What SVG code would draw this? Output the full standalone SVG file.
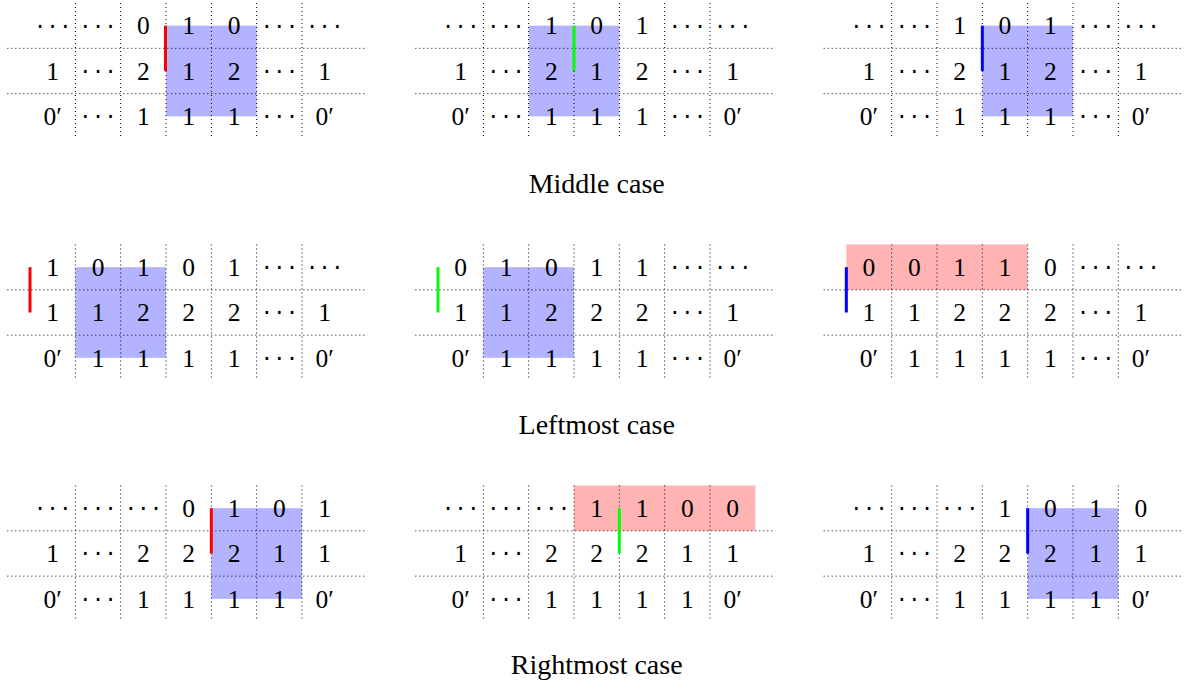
<svg xmlns="http://www.w3.org/2000/svg" xmlns:xlink="http://www.w3.org/1999/xlink" width="1184" height="684" viewBox="0 0 1184 684">
<style>
.dot{fill:none;stroke:#000;stroke-width:1;stroke-dasharray:1 3}
.t{font-family:"Liberation Serif","Times New Roman",serif;font-size:25.5px;text-anchor:middle;fill:#000}
.c{font-family:"DejaVu Sans",sans-serif;font-size:24px;letter-spacing:5px;text-anchor:middle;fill:#000}
.cap{font-family:"Liberation Serif","Times New Roman",serif;font-size:28px;text-anchor:middle;fill:#000}
.blue{fill:#b3b3ff}
.pink{fill:#ffb3b3}
.bar{stroke-width:3;fill:none}
</style>
<defs>
<path id="gl" class="dot" d="M-22.67 45.33H337.33M-22.67 90.67H337.33M45.33 0V136M90.67 0V136M136 0V136M181.33 0V136M226.67 0V136M272 0V136"/>
</defs>
<rect width="1184" height="684" fill="#fff"/>

<g id="grid-middle-1" transform="translate(30,3)">
<rect class="blue" x="136" y="22.67" width="90.67" height="90.67"/>
<use xlink:href="#gl"/>
<text class="c" x="25.17" y="31.5">···</text><text class="c" x="70.5" y="31.5">···</text><text class="t" x="113.33" y="31.4">0</text><text class="t" x="158.67" y="31.4">1</text><text class="t" x="204" y="31.4">0</text><text class="c" x="251.83" y="31.5">···</text><text class="c" x="297.17" y="31.5">···</text>
<text class="t" x="22.67" y="76.7">1</text><text class="c" x="70.5" y="76.8">···</text><text class="t" x="113.33" y="76.7">2</text><text class="t" x="158.67" y="76.7">1</text><text class="t" x="204" y="76.7">2</text><text class="c" x="251.83" y="76.8">···</text><text class="t" x="294.67" y="76.7">1</text>
<text class="t" x="22.67" y="122">0′</text><text class="c" x="70.5" y="122.2">···</text><text class="t" x="113.33" y="122">1</text><text class="t" x="158.67" y="122">1</text><text class="t" x="204" y="122">1</text><text class="c" x="251.83" y="122.2">···</text><text class="t" x="294.67" y="122">0′</text>
<line class="bar" stroke="#ff0000" x1="135.5" y1="22.67" x2="135.5" y2="68"/>
</g>

<g id="grid-middle-2" transform="translate(438,3)">
<rect class="blue" x="90.67" y="22.67" width="90.67" height="90.67"/>
<use xlink:href="#gl"/>
<text class="c" x="25.17" y="31.5">···</text><text class="c" x="70.5" y="31.5">···</text><text class="t" x="113.33" y="31.4">1</text><text class="t" x="158.67" y="31.4">0</text><text class="t" x="204" y="31.4">1</text><text class="c" x="251.83" y="31.5">···</text><text class="c" x="297.17" y="31.5">···</text>
<text class="t" x="22.67" y="76.7">1</text><text class="c" x="70.5" y="76.8">···</text><text class="t" x="113.33" y="76.7">2</text><text class="t" x="158.67" y="76.7">1</text><text class="t" x="204" y="76.7">2</text><text class="c" x="251.83" y="76.8">···</text><text class="t" x="294.67" y="76.7">1</text>
<text class="t" x="22.67" y="122">0′</text><text class="c" x="70.5" y="122.2">···</text><text class="t" x="113.33" y="122">1</text><text class="t" x="158.67" y="122">1</text><text class="t" x="204" y="122">1</text><text class="c" x="251.83" y="122.2">···</text><text class="t" x="294.67" y="122">0′</text>
<line class="bar" stroke="#00ff00" x1="136" y1="22.67" x2="136" y2="68"/>
</g>

<g id="grid-middle-3" transform="translate(846.33,3)">
<rect class="blue" x="136" y="22.67" width="90.67" height="90.67"/>
<use xlink:href="#gl"/>
<text class="c" x="25.17" y="31.5">···</text><text class="c" x="70.5" y="31.5">···</text><text class="t" x="113.33" y="31.4">1</text><text class="t" x="158.67" y="31.4">0</text><text class="t" x="204" y="31.4">1</text><text class="c" x="251.83" y="31.5">···</text><text class="c" x="297.17" y="31.5">···</text>
<text class="t" x="22.67" y="76.7">1</text><text class="c" x="70.5" y="76.8">···</text><text class="t" x="113.33" y="76.7">2</text><text class="t" x="158.67" y="76.7">1</text><text class="t" x="204" y="76.7">2</text><text class="c" x="251.83" y="76.8">···</text><text class="t" x="294.67" y="76.7">1</text>
<text class="t" x="22.67" y="122">0′</text><text class="c" x="70.5" y="122.2">···</text><text class="t" x="113.33" y="122">1</text><text class="t" x="158.67" y="122">1</text><text class="t" x="204" y="122">1</text><text class="c" x="251.83" y="122.2">···</text><text class="t" x="294.67" y="122">0′</text>
<line class="bar" stroke="#0000ff" x1="136" y1="22.67" x2="136" y2="68"/>
</g>

<text id="caption-middle" class="cap" x="596.7" y="193.3">Middle case</text>

<g id="grid-left-1" transform="translate(30,244.5)">
<rect class="blue" x="45.33" y="22.67" width="90.67" height="90.67"/>
<use xlink:href="#gl"/>
<text class="t" x="22.67" y="31.4">1</text><text class="t" x="68" y="31.4">0</text><text class="t" x="113.33" y="31.4">1</text><text class="t" x="158.67" y="31.4">0</text><text class="t" x="204" y="31.4">1</text><text class="c" x="251.83" y="31.5">···</text><text class="c" x="297.17" y="31.5">···</text>
<text class="t" x="22.67" y="76.7">1</text><text class="t" x="68" y="76.7">1</text><text class="t" x="113.33" y="76.7">2</text><text class="t" x="158.67" y="76.7">2</text><text class="t" x="204" y="76.7">2</text><text class="c" x="251.83" y="76.8">···</text><text class="t" x="294.67" y="76.7">1</text>
<text class="t" x="22.67" y="122">0′</text><text class="t" x="68" y="122">1</text><text class="t" x="113.33" y="122">1</text><text class="t" x="158.67" y="122">1</text><text class="t" x="204" y="122">1</text><text class="c" x="251.83" y="122.2">···</text><text class="t" x="294.67" y="122">0′</text>
<line class="bar" stroke="#ff0000" x1="0" y1="22.67" x2="0" y2="68"/>
</g>

<g id="grid-left-2" transform="translate(438,244.5)">
<rect class="blue" x="45.33" y="22.67" width="90.67" height="90.67"/>
<use xlink:href="#gl"/>
<text class="t" x="22.67" y="31.4">0</text><text class="t" x="68" y="31.4">1</text><text class="t" x="113.33" y="31.4">0</text><text class="t" x="158.67" y="31.4">1</text><text class="t" x="204" y="31.4">1</text><text class="c" x="251.83" y="31.5">···</text><text class="c" x="297.17" y="31.5">···</text>
<text class="t" x="22.67" y="76.7">1</text><text class="t" x="68" y="76.7">1</text><text class="t" x="113.33" y="76.7">2</text><text class="t" x="158.67" y="76.7">2</text><text class="t" x="204" y="76.7">2</text><text class="c" x="251.83" y="76.8">···</text><text class="t" x="294.67" y="76.7">1</text>
<text class="t" x="22.67" y="122">0′</text><text class="t" x="68" y="122">1</text><text class="t" x="113.33" y="122">1</text><text class="t" x="158.67" y="122">1</text><text class="t" x="204" y="122">1</text><text class="c" x="251.83" y="122.2">···</text><text class="t" x="294.67" y="122">0′</text>
<line class="bar" stroke="#00ff00" x1="0" y1="22.67" x2="0" y2="68"/>
</g>

<g id="grid-left-3" transform="translate(846.33,244.5)">
<rect class="pink" x="0" y="0" width="181.33" height="45.33"/>
<use xlink:href="#gl"/>
<text class="t" x="22.67" y="31.4">0</text><text class="t" x="68" y="31.4">0</text><text class="t" x="113.33" y="31.4">1</text><text class="t" x="158.67" y="31.4">1</text><text class="t" x="204" y="31.4">0</text><text class="c" x="251.83" y="31.5">···</text><text class="c" x="297.17" y="31.5">···</text>
<text class="t" x="22.67" y="76.7">1</text><text class="t" x="68" y="76.7">1</text><text class="t" x="113.33" y="76.7">2</text><text class="t" x="158.67" y="76.7">2</text><text class="t" x="204" y="76.7">2</text><text class="c" x="251.83" y="76.8">···</text><text class="t" x="294.67" y="76.7">1</text>
<text class="t" x="22.67" y="122">0′</text><text class="t" x="68" y="122">1</text><text class="t" x="113.33" y="122">1</text><text class="t" x="158.67" y="122">1</text><text class="t" x="204" y="122">1</text><text class="c" x="251.83" y="122.2">···</text><text class="t" x="294.67" y="122">0′</text>
<line class="bar" stroke="#0000ff" x1="0" y1="22.67" x2="0" y2="68"/>
</g>

<text id="caption-left" class="cap" x="596.7" y="434">Leftmost case</text>

<g id="grid-right-1" transform="translate(30,485.5)">
<rect class="blue" x="181.33" y="22.67" width="90.67" height="90.67"/>
<use xlink:href="#gl"/>
<text class="c" x="25.17" y="31.5">···</text><text class="c" x="70.5" y="31.5">···</text><text class="c" x="115.83" y="31.5">···</text><text class="t" x="158.67" y="31.4">0</text><text class="t" x="204" y="31.4">1</text><text class="t" x="249.33" y="31.4">0</text><text class="t" x="294.67" y="31.4">1</text>
<text class="t" x="22.67" y="76.7">1</text><text class="c" x="70.5" y="76.8">···</text><text class="t" x="113.33" y="76.7">2</text><text class="t" x="158.67" y="76.7">2</text><text class="t" x="204" y="76.7">2</text><text class="t" x="249.33" y="76.7">1</text><text class="t" x="294.67" y="76.7">1</text>
<text class="t" x="22.67" y="122">0′</text><text class="c" x="70.5" y="122.2">···</text><text class="t" x="113.33" y="122">1</text><text class="t" x="158.67" y="122">1</text><text class="t" x="204" y="122">1</text><text class="t" x="249.33" y="122">1</text><text class="t" x="294.67" y="122">0′</text>
<line class="bar" stroke="#ff0000" x1="181.33" y1="22.67" x2="181.33" y2="68"/>
</g>

<g id="grid-right-2" transform="translate(438,485.5)">
<rect class="pink" x="136" y="0" width="181.33" height="45.33"/>
<use xlink:href="#gl"/>
<text class="c" x="25.17" y="31.5">···</text><text class="c" x="70.5" y="31.5">···</text><text class="c" x="115.83" y="31.5">···</text><text class="t" x="158.67" y="31.4">1</text><text class="t" x="204" y="31.4">1</text><text class="t" x="249.33" y="31.4">0</text><text class="t" x="294.67" y="31.4">0</text>
<text class="t" x="22.67" y="76.7">1</text><text class="c" x="70.5" y="76.8">···</text><text class="t" x="113.33" y="76.7">2</text><text class="t" x="158.67" y="76.7">2</text><text class="t" x="204" y="76.7">2</text><text class="t" x="249.33" y="76.7">1</text><text class="t" x="294.67" y="76.7">1</text>
<text class="t" x="22.67" y="122">0′</text><text class="c" x="70.5" y="122.2">···</text><text class="t" x="113.33" y="122">1</text><text class="t" x="158.67" y="122">1</text><text class="t" x="204" y="122">1</text><text class="t" x="249.33" y="122">1</text><text class="t" x="294.67" y="122">0′</text>
<line class="bar" stroke="#00ff00" x1="181.33" y1="22.67" x2="181.33" y2="68"/>
</g>

<g id="grid-right-3" transform="translate(846.33,485.5)">
<rect class="blue" x="181.33" y="22.67" width="90.67" height="90.67"/>
<use xlink:href="#gl"/>
<text class="c" x="25.17" y="31.5">···</text><text class="c" x="70.5" y="31.5">···</text><text class="c" x="115.83" y="31.5">···</text><text class="t" x="158.67" y="31.4">1</text><text class="t" x="204" y="31.4">0</text><text class="t" x="249.33" y="31.4">1</text><text class="t" x="294.67" y="31.4">0</text>
<text class="t" x="22.67" y="76.7">1</text><text class="c" x="70.5" y="76.8">···</text><text class="t" x="113.33" y="76.7">2</text><text class="t" x="158.67" y="76.7">2</text><text class="t" x="204" y="76.7">2</text><text class="t" x="249.33" y="76.7">1</text><text class="t" x="294.67" y="76.7">1</text>
<text class="t" x="22.67" y="122">0′</text><text class="c" x="70.5" y="122.2">···</text><text class="t" x="113.33" y="122">1</text><text class="t" x="158.67" y="122">1</text><text class="t" x="204" y="122">1</text><text class="t" x="249.33" y="122">1</text><text class="t" x="294.67" y="122">0′</text>
<line class="bar" stroke="#0000ff" x1="181.33" y1="22.67" x2="181.33" y2="68"/>
</g>

<text id="caption-right" class="cap" x="596.7" y="674">Rightmost case</text>
</svg>
